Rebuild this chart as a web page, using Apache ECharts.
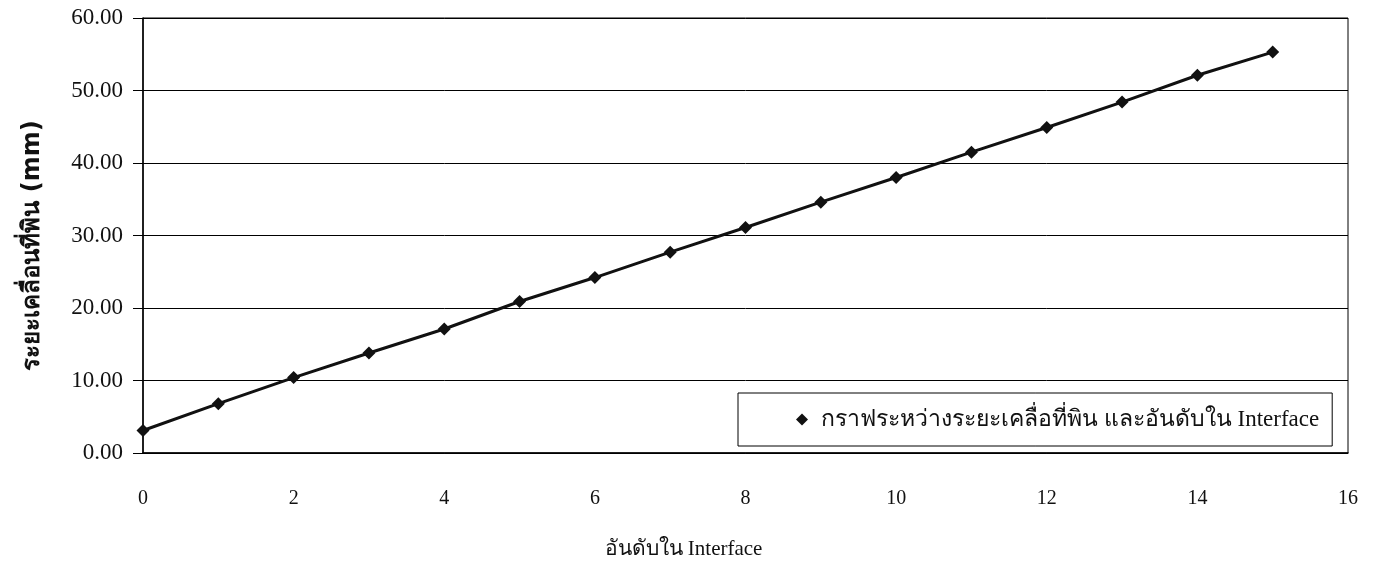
<!DOCTYPE html>
<html>
<head>
<meta charset="utf-8">
<script src="https://cdn.jsdelivr.net/npm/echarts@6/dist/echarts.min.js"></script>
<style>
    html, body { margin: 0; padding: 0; background: #fff; }
    #main { width: 1374px; height: 564px; }
</style>
</head>
<body>
<div id="main"></div>
<script>
const xValues = [0, 1, 2, 3, 4, 5, 6, 7, 8, 9, 10, 11, 12, 13, 14, 15];
const yValues = [3.1, 6.8, 10.4, 13.8, 17.1, 20.9, 24.2, 27.7, 31.1, 34.6, 38.0, 41.5, 44.9, 48.4, 52.1, 55.3];
const seriesName = "กราฟระหว่างระยะเคลื่อที่พิน และอันดับใน Interface";

const serif = "'Liberation Serif', 'DejaVu Serif', serif";

const chart = echarts.init(document.getElementById("main"));

option = {
    backgroundColor: "#fff",
    animation: false,
    grid: {
        left: 143,
        right: 26,
        top: 18,
        bottom: 111,
        outerBoundsMode: "none",
        show: true,
        borderColor: "#000",
        borderWidth: 1
    },
    legend: {
        left: 738,
        top: 393,
        padding: [15, 13, 15, 58],
        backgroundColor: "#fff",
        borderColor: "#000",
        borderWidth: 1,
        itemWidth: 12,
        itemHeight: 12,
        itemGap: 0,
        icon: "diamond",
        textStyle: {
            fontFamily: serif,
            fontSize: 23,
            color: "#111",
            padding: [0, 0, 0, 8]
        },
        data: [seriesName]
    },
    xAxis: {
        type: "value",
        min: 0,
        max: 16,
        interval: 2,
        name: "อันดับใน Interface",
        nameLocation: "middle",
        nameGap: 86,
        nameTextStyle: {
            fontFamily: serif,
            fontSize: 21,
            color: "#111",
            padding: [0, 124, 0, 0]
        },
        axisLine: { lineStyle: { color: "#000", width: 1.5 } },
        axisTick: { show: false },
        splitLine: { show: false },
        axisLabel: {
            margin: 36,
            fontFamily: serif,
            fontSize: 20,
            color: "#111"
        }
    },
    yAxis: {
        type: "value",
        min: 0,
        max: 60,
        interval: 10,
        name: "ระยะเคลื่อนที่พิน (mm)",
        nameLocation: "middle",
        nameGap: 98,
        nameTextStyle: {
            fontFamily: "'DejaVu Sans', 'Noto Sans', sans-serif",
            fontSize: 24,
            fontWeight: "bold",
            color: "#111",
            padding: [0, 20, 0, 0]
        },
        axisLine: { show: true, lineStyle: { color: "#000", width: 1.5 } },
        axisTick: { show: true, length: 10, lineStyle: { color: "#000" } },
        splitLine: { show: true, lineStyle: { color: "#000", width: 1 } },
        axisLabel: {
            margin: 20,
            fontFamily: serif,
            fontSize: 23,
            color: "#111",
            formatter: (v) => v.toFixed(2)
        }
    },
    series: [
        {
            name: seriesName,
            type: "line",
            data: xValues.map((x, i) => [x, yValues[i]]),
            symbol: "diamond",
            symbolSize: 13,
            lineStyle: { color: "#111", width: 3 },
            itemStyle: { color: "#111" }
        }
    ]
};

chart.setOption(option);
</script>
</body>
</html>
